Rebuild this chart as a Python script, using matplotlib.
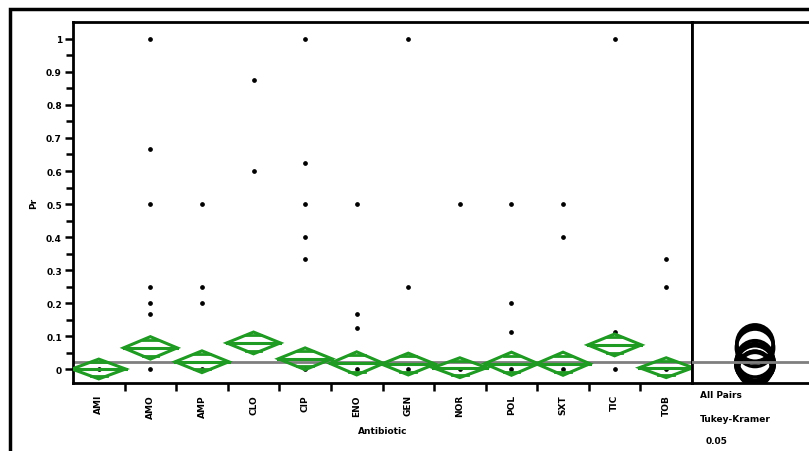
import matplotlib
matplotlib.use("Agg")
import matplotlib.pyplot as plt
from matplotlib.patches import Polygon, Ellipse, Rectangle
import numpy as np

# ---- data -------------------------------------------------------------
antibiotics = ["AMI", "AMO", "AMP", "CLO", "CIP", "ENO",
               "GEN", "NOR", "POL", "SXT", "TIC", "TOB"]

obs_AMI = [0.0]
obs_AMO = [1.0, 0.667, 0.5, 0.25, 0.2, 0.167, 0.0]
obs_AMP = [0.5, 0.25, 0.2, 0.0]
obs_CLO = [0.875, 0.6]
obs_CIP = [1.0, 0.625, 0.5, 0.4, 0.333, 0.0]
obs_ENO = [0.5, 0.167, 0.125, 0.0]
obs_GEN = [1.0, 0.25, 0.0]
obs_NOR = [0.5, 0.0]
obs_POL = [0.5, 0.2, 0.111, 0.0]
obs_SXT = [0.5, 0.4, 0.0]
obs_TIC = [1.0, 0.111, 0.0]
obs_TOB = [0.333, 0.25, 0.0]

group_means = [0.0, 0.064, 0.022, 0.079, 0.031, 0.017,
               0.015, 0.004, 0.016, 0.016, 0.073, 0.004]
ci_half = [0.030, 0.034, 0.033, 0.033, 0.033, 0.035,
           0.033, 0.030, 0.035, 0.035, 0.033, 0.030]
grand_mean = 0.022

y_ticks = [0.0, 0.1, 0.2, 0.3, 0.4, 0.5, 0.6, 0.7, 0.8, 0.9, 1.0]
y_ticklabels = ["0", "0.1", "0.2", "0.3", "0.4", "0.5",
                "0.6", "0.7", "0.8", "0.9", "1"]
x_title = "Antibiotic"
y_title = "Pr"
circle_caption = ["All Pairs", "Tukey-Kramer", "0.05"]
tukey_ratio = 1.67  # Tukey-Kramer q*/t ratio for comparison circle radius

observations = [obs_AMI, obs_AMO, obs_AMP, obs_CLO, obs_CIP, obs_ENO,
                obs_GEN, obs_NOR, obs_POL, obs_SXT, obs_TIC, obs_TOB]

# ---- figure -----------------------------------------------------------
W, H = 809, 452
fig = plt.figure(figsize=(W / 100, H / 100), dpi=100)
fig.patch.set_facecolor("white")

def fx(px):
    return px / W

def fy(py):
    return 1 - py / H

green = "#1f9a22"
font = dict(family="DejaVu Sans", weight="bold")

# outer frame
fig.add_artist(Rectangle((fx(10), fy(470)), fx(900), 470 / H - 10 / H,
                         transform=fig.transFigure, fill=False,
                         lw=2.5, ec="black"))

left, right, top, bottom = 73, 692, 23, 384
ax = fig.add_axes([fx(left), fy(bottom), fx(right - left), (bottom - top) / H])
ylo, yhi = -0.0424, 1.0515
ax.set_ylim(ylo, yhi)
ax.set_xlim(-0.5, len(antibiotics) - 0.5)

for s in ax.spines.values():
    s.set_linewidth(2)
    s.set_color("black")

# grand mean
ax.axhline(grand_mean, color="#7f7f7f", lw=2, zorder=1)

# raw points
for i, vals in enumerate(observations):
    ax.plot(np.full(len(vals), i), vals, "o", ms=2.4, color="black",
            mec="black", zorder=3)

# means diamonds
half_w = 0.52
for i, (m, h) in enumerate(zip(group_means, ci_half)):
    pts = [(i - half_w, m), (i, m + h), (i + half_w, m), (i, m - h)]
    ax.add_patch(Polygon(pts, closed=True, fill=False, ec=green, lw=2.2,
                         joinstyle="miter", zorder=4))
    ax.plot([i - half_w, i + half_w], [m, m], color=green, lw=2.2, zorder=4)
    off = h / np.sqrt(2)
    frac = (1 - off / h) * half_w
    for sgn in (1, -1):
        ax.plot([i - frac, i + frac], [m + sgn * off] * 2, color=green,
                lw=2.0, zorder=4)

# y axis ticks
ax.set_yticks(y_ticks)
ax.set_yticklabels(y_ticklabels, fontsize=6.5, **font)
ax.set_yticks(np.arange(0.05, 1.05, 0.1), minor=True)
ax.tick_params(axis="y", which="major", length=6, width=1.8, pad=2)
ax.tick_params(axis="y", which="minor", length=5, width=1.8)

# x axis: tick marks on category boundaries, labels at centres
ax.set_xticks(np.arange(0.5, len(antibiotics) - 0.5, 1.0))
ax.set_xticklabels([])
ax.tick_params(axis="x", which="major", length=6, width=1.8)
ax.set_xticks(np.arange(len(antibiotics)), minor=True)
ax.set_xticklabels(antibiotics, minor=True, rotation=90, fontsize=6.5, **font)
ax.tick_params(axis="x", which="minor", length=0, pad=8)

ax.set_xlabel(x_title, fontsize=6.5, labelpad=6, **font)
ax.set_ylabel(y_title, fontsize=6.5, labelpad=6, **font)

# comparison circles panel
rp_right = 860
ax2 = fig.add_axes([fx(right), fy(bottom), fx(rp_right - right), (bottom - top) / H])
px_per_unit = (bottom - top) / (yhi - ylo)
ax2.set_ylim(ylo, yhi)
ax2.set_xlim(0, (rp_right - right) / px_per_unit)
ax2.set_xticks([])
ax2.set_yticks([])
for s in ax2.spines.values():
    s.set_linewidth(2)
    s.set_color("black")
ax2.axhline(grand_mean, color="#7f7f7f", lw=2, zorder=3)
cx = (755 - right) / px_per_unit
for m, h in zip(group_means, ci_half):
    r = h * tukey_ratio
    ax2.add_patch(Ellipse((cx, m), 2 * r, 2 * r, fill=False, ec="black",
                          lw=2.4, zorder=2))

for txt, py, px in zip(circle_caption, [396, 420, 442], [700, 700, 706]):
    fig.text(fx(px), fy(py), txt, fontsize=6.5, ha="left", va="center", **font)

fig.savefig("out.png", dpi=100)
